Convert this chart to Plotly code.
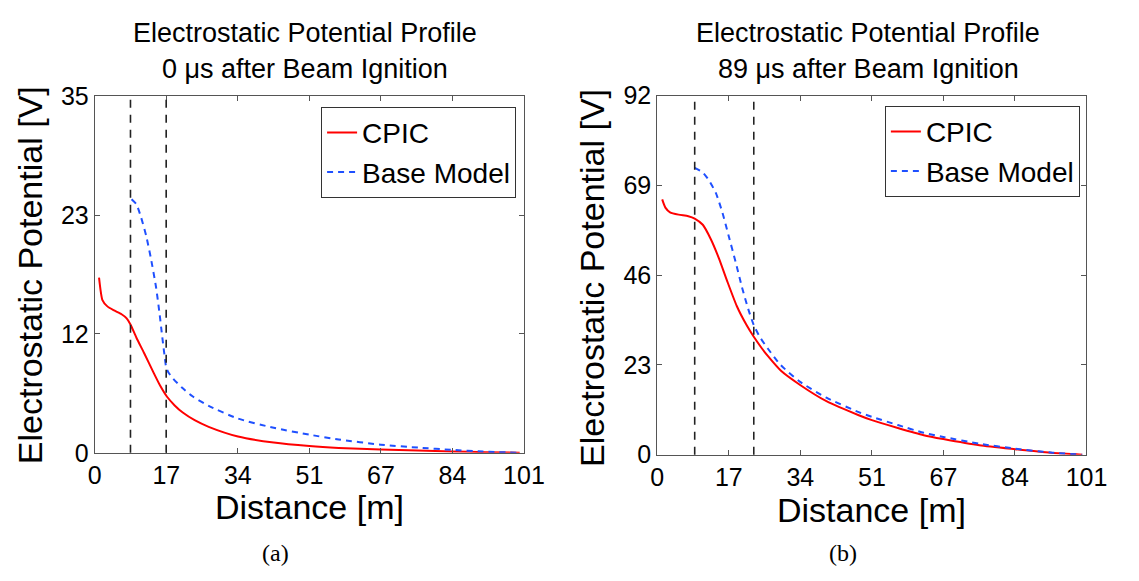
import numpy as np
import plotly.graph_objects as go

# ---- data -------------------------------------------------------------
# Panel (a): 0 us after beam ignition
cpic_a_x = [1.0, 1.8, 2.9, 4.4, 6.3, 7.5, 8.4, 9.8, 11.6, 13.8, 15.5, 17.0, 18.8, 20.7,
            23.5, 26.8, 33.7, 42.1, 50.5, 57.4, 67.3, 76.0, 84.2, 92.0, 100.0]
cpic_a_y = [17.2, 15.0, 14.4, 14.0, 13.6, 13.2, 12.6, 11.3, 9.8, 7.9, 6.5, 5.5, 4.65, 3.95,
            3.2, 2.55, 1.6, 1.0, 0.66, 0.48, 0.33, 0.22, 0.13, 0.06, 0.0]
base_a_x = [8.65, 9.8, 10.9, 12.1, 13.2, 14.4, 15.2, 15.9, 16.4, 16.8, 17.3, 18.4,
            20.5, 23.0, 26.8, 33.7, 42.1, 50.5, 57.4, 67.3, 76.3, 84.2, 91.3, 100.0]
base_a_y = [24.9, 24.4, 23.1, 21.3, 19.1, 16.3, 13.8, 11.3, 9.6, 8.4, 7.9, 7.3,
            6.4, 5.55, 4.6, 3.36, 2.45, 1.78, 1.3, 0.8, 0.5, 0.28, 0.12, 0.0]
bounds_a = [8.4, 16.8]

# Panel (b): 89 us after beam ignition
cpic_b_x = [1.15, 1.9, 3.0, 5.0, 7.3, 8.8, 10.7, 12.6, 14.5, 16.4, 18.7, 21.0, 22.7,
            24.5, 26.0, 29.1, 33.7, 39.8, 47.4, 50.5, 56.6, 62.7, 67.3, 75.8, 84.2,
            92.6, 100.0]
cpic_b_y = [65.4, 63.3, 62.1, 61.5, 61.1, 60.5, 58.9, 55.2, 50.3, 44.6, 38.1, 33.2, 30.2,
            27.4, 25.3, 21.5, 17.8, 13.7, 10.1, 8.85, 6.85, 5.0, 4.0, 2.4, 1.4,
            0.5, 0.0]
base_b_x = [8.8, 10.7, 12.2, 13.8, 15.3, 16.8, 18.4, 19.9, 21.4, 22.7, 24.1, 26.0,
            29.1, 33.7, 39.8, 47.4, 50.5, 56.6, 62.7, 67.3, 75.8, 84.2, 92.6, 100.0]
base_b_y = [73.5, 72.3, 70.2, 67.0, 62.1, 56.0, 49.5, 43.0, 37.3, 33.2, 30.2, 27.2,
            22.9, 18.6, 14.6, 10.9, 9.7, 7.6, 5.6, 4.55, 2.8, 1.55, 0.55, 0.0]
bounds_b = [8.8, 22.7]

x_max = 101
y_max_a = 35
y_max_b = 92
times_us = [0, 89]
captions = ["(a)", "(b)"]

# ---- styling ----------------------------------------------------------
FONT = "Liberation Sans"
AXIS_COLOR = "#555555"
RED = "#ff0000"
BLUE = "#1f50ff"

fig = go.Figure()

panels = [
    dict(cx=cpic_a_x, cy=cpic_a_y, bx=base_a_x, by=base_a_y, bounds=bounds_a,
         ymax=y_max_a, nt=4, xa="x", ya="y", legend="legend"),
    dict(cx=cpic_b_x, cy=cpic_b_y, bx=base_b_x, by=base_b_y, bounds=bounds_b,
         ymax=y_max_b, nt=5, xa="x2", ya="y2", legend="legend2"),
]

for p in panels:
    fig.add_trace(go.Scatter(
        x=p["cx"], y=p["cy"], mode="lines", name="CPIC",
        line=dict(color=RED, width=2, shape="spline", smoothing=0.6),
        xaxis=p["xa"], yaxis=p["ya"], legend=p["legend"]))
    fig.add_trace(go.Scatter(
        x=p["bx"], y=p["by"], mode="lines", name="Base Model",
        line=dict(color=BLUE, width=2, dash="6px,5px", shape="spline", smoothing=0.6),
        xaxis=p["xa"], yaxis=p["ya"], legend=p["legend"]))
    for xb in p["bounds"]:
        fig.add_shape(type="line", xref=p["xa"], yref=p["ya"] + " domain",
                      x0=xb, x1=xb, y0=0, y1=1,
                      line=dict(color="#222222", width=1.6, dash="8px,7px"))

# MATLAB-style ticks: evenly spaced, labels rounded to integers
x_ticks = list(np.linspace(0, x_max, 7))
x_text = [str(int(np.floor(v + 0.5))) for v in x_ticks]


def axis_common():
    return dict(showline=True, linecolor=AXIS_COLOR, linewidth=1.2, mirror="ticks",
                ticks="inside", ticklen=5, tickcolor=AXIS_COLOR, tickwidth=1,
                showgrid=False, zeroline=False,
                tickfont=dict(family=FONT, size=25, color="black"))


xdom = [[90 / 1139, 530 / 1139], [666.7 / 1139, 1106.7 / 1139]]
ydom = [[120 / 581, 494.5 / 581], [118 / 581, 495.3 / 581]]

for i, p in enumerate(panels):
    yt = list(np.linspace(0, p["ymax"], p["nt"]))
    ytxt = [str(int(np.floor(v + 0.5))) for v in yt]
    sfx = "" if i == 0 else "2"
    fig.update_layout(**{
        "xaxis" + sfx: dict(axis_common(), domain=xdom[i], range=[0, x_max],
                            tickvals=x_ticks, ticktext=x_text,
                            anchor="y" + sfx),
        "yaxis" + sfx: dict(axis_common(), domain=ydom[i], range=[0, p["ymax"]],
                            tickvals=yt, ticktext=ytxt, anchor="x" + sfx),
    })

legend_style = dict(font=dict(family=FONT, size=28, color="black"),
                    bgcolor="white", bordercolor="#333333", borderwidth=1,
                    xanchor="left", yanchor="top", xref="paper", yref="paper",
                    tracegroupgap=0, itemwidth=30)
fig.update_layout(
    legend=dict(legend_style, x=322 / 1139, y=(581 - 97.5) / 581),
    legend2=dict(legend_style, x=900 / 1139, y=(581 - 96.5) / 581),
)

annotations = []
title_centers = [305, 883]
label_centers = [310, 886.7]
label_y = [518, 521]
caption_x = [275, 857]


def note(text, x, y, size, family=FONT, **kw):
    return dict(text=text, x=x / 1139, y=(581 - y) / 581, xref="paper", yref="paper",
                showarrow=False, xanchor="center", yanchor="middle",
                font=dict(family=family, size=size, color="black"), **kw)


for i in range(2):
    annotations.append(note("Electrostatic Potential Profile", title_centers[i], 20, 27))
    annotations.append(note(f"{times_us[i]} μs after Beam Ignition", title_centers[i], 58, 27))
    annotations.append(note("Distance [m]", label_centers[i], label_y[i], 34))
    annotations.append(note(captions[i], caption_x[i], 566, 24, family="Liberation Serif"))

ylab_x = [23.5, 599]
ylab_y = [274.5, 277]
for i in range(2):
    annotations.append(note("Electrostatic Potential [V]", ylab_x[i], ylab_y[i], 34,
                            textangle=-90))

fig.update_layout(
    width=1139, height=581,
    margin=dict(l=0, r=0, t=0, b=0),
    paper_bgcolor="white", plot_bgcolor="white",
    annotations=annotations,
    showlegend=True,
)

fig.write_html("out.html")
